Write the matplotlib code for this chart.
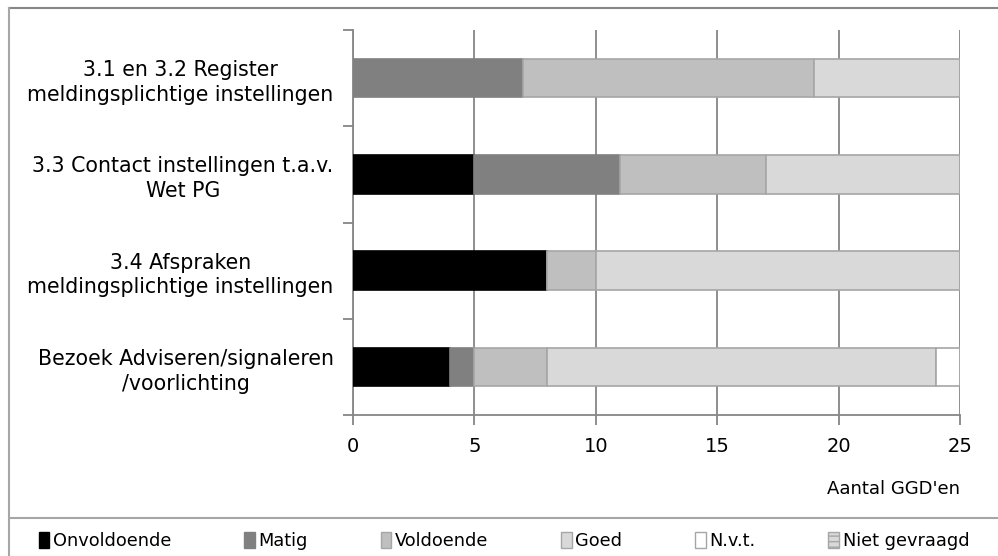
import matplotlib.pyplot as plt
from matplotlib.lines import Line2D
from matplotlib.patches import Patch
import numpy as np

categories = [
    "3.1 en 3.2 Register\nmeldingsplichtige instellingen",
    "3.3 Contact instellingen t.a.v.\nWet PG",
    "3.4 Afspraken\nmeldingsplichtige instellingen",
    "Bezoek Adviseren/signaleren\n/voorlichting",
]
series = ["Onvoldoende", "Matig", "Voldoende", "Goed", "N.v.t.", "Niet gevraagd"]
onvoldoende = [0, 5, 8, 4]
matig = [7, 6, 0, 1]
voldoende = [12, 6, 2, 3]
goed = [6, 8, 15, 16]
nvt = [0, 0, 0, 1]
niet_gevraagd = [0, 0, 0, 0]
values = [onvoldoende, matig, voldoende, goed, nvt, niet_gevraagd]

faces = ["#000000", "#808080", "#bfbfbf", "#d9d9d9", "#ffffff", "#d9d9d9"]
edges = ["#000000", "#808080", "#a6a6a6", "#a6a6a6", "#a6a6a6", "#a6a6a6"]

plt.rcParams['font.family'] = ['DejaVu Sans']
fig = plt.figure(figsize=(9.98, 5.56), dpi=100)
W, H = 998, 556
ax = fig.add_axes([353 / W, 1 - 415 / H, (960 - 353) / W, (415 - 30) / H])

y = np.arange(len(categories))
left = np.zeros(len(categories))
for vals, fc, ec in zip(values, faces, edges):
    vals = np.array(vals, dtype=float)
    ax.barh(y, vals, left=left, height=0.4, color=fc, edgecolor=ec,
            linewidth=1.2, zorder=3)
    left += vals

ax.set_ylim(len(categories) - 0.5, -0.5)
ax.set_xlim(0, 25)
ax.set_xticks([0, 5, 10, 15, 20, 25])
ax.set_yticks(y)
ax.set_yticklabels(categories, multialignment='center', fontsize=14.8,
                   color='#000000', linespacing=1.3)
ax.set_yticks(np.arange(-0.5, len(categories), 1), minor=True)
ax.tick_params(axis='y', which='major', length=0, pad=14)
ax.tick_params(axis='y', which='minor', length=7, width=1.3, color='#868686', direction='out')
ax.tick_params(axis='x', length=7, width=1.3, color='#868686', labelsize=14, pad=9)
ax.grid(axis='x', color='#868686', linewidth=1.3, zorder=0)
for s in ['top', 'right']:
    ax.spines[s].set_visible(False)
for s in ['left', 'bottom']:
    ax.spines[s].set_color('#868686')
    ax.spines[s].set_linewidth(1.3)
ax.set_xlabel("Aantal GGD'en", fontsize=13, loc='right', labelpad=17)

# chart frame and legend box
fig.add_artist(Line2D([9 / W, 1], [1 - 8 / H, 1 - 8 / H], color='#868686', lw=1.5))
fig.add_artist(Line2D([9 / W, 9 / W], [0, 1 - 8 / H], color='#a6a6a6', lw=1.5))
fig.add_artist(Line2D([10 / W, 1], [1 - 518 / H, 1 - 518 / H], color='#a6a6a6', lw=1.5))

handles = [Patch(facecolor=fc, edgecolor=ec, hatch='---' if lab == "Niet gevraagd" else None)
           for lab, fc, ec in zip(series, faces, edges)]
fig.legend(handles, series, loc='center', bbox_to_anchor=(504 / W, 1 - 541 / H),
           ncol=6, frameon=False, fontsize=12.8, handlelength=0.6, handleheight=1.0,
           handletextpad=0.2, columnspacing=4.1)

fig.savefig('out.png', dpi=100)
